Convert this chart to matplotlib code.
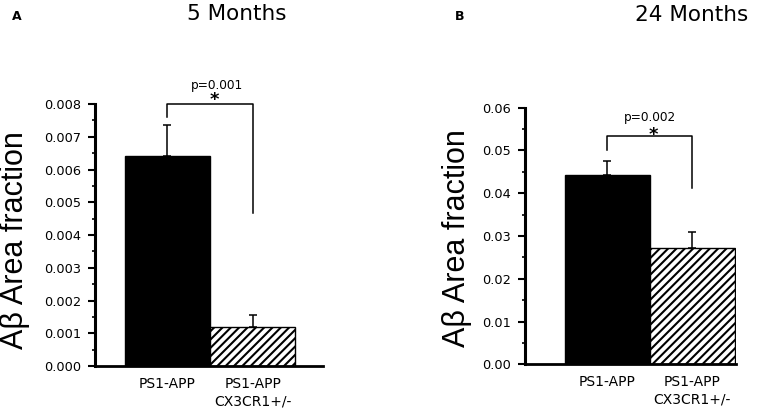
import matplotlib
matplotlib.use('Agg')
import matplotlib.pyplot as plt
from matplotlib.ticker import MultipleLocator, FormatStrFormatter

plt.rcParams['font.family'] = 'DejaVu Sans'
plt.rcParams['hatch.linewidth'] = 1.5

# data
groups = ["PS1-APP", "PS1-APP\nCX3CR1+/-"]
means_5m = [0.00640, 0.00118]
errs_5m = [0.00095, 0.00037]
means_24m = [0.0443, 0.0273]
errs_24m = [0.0033, 0.0036]
pval_5m = "p=0.001"
pval_24m = "p=0.002"

W, H = 765, 412
fig = plt.figure(figsize=(W / 100, H / 100), dpi=100, facecolor='white')


def px_axes(left, top, right, bottom):
    # pixel box -> figure fraction
    return fig.add_axes([left / W, 1 - bottom / H, (right - left) / W, (bottom - top) / H])


def draw_panel(ax, means, errs, ymax, major, fmt, xlim, bracket, ptext, pxy, star_xy):
    x = [0, 1]
    ax.bar(x[0], means[0], width=1.0, color='black', edgecolor='black', linewidth=1.0)
    ax.bar(x[1], means[1], width=1.0, color='white', edgecolor='black', linewidth=1.0, hatch='////')
    ax.errorbar(x, means, yerr=[[0, 0], errs], fmt='none', ecolor='black',
                elinewidth=1.1, capsize=3, capthick=1.1)

    ax.set_xlim(*xlim)
    ax.set_ylim(0, ymax)
    ax.yaxis.set_major_locator(MultipleLocator(major))
    ax.yaxis.set_minor_locator(MultipleLocator(major / 2))
    ax.yaxis.set_major_formatter(FormatStrFormatter(fmt))
    ax.tick_params(axis='y', which='major', direction='out', length=5, width=1.5,
                   labelsize=9.3, pad=5)
    ax.tick_params(axis='y', which='minor', direction='out', length=2, width=1.2)
    ax.set_xticks(x)
    ax.set_xticklabels(groups, fontsize=10, linespacing=1.3, va='top')
    ax.tick_params(axis='x', length=0, pad=8)

    for side in ['top', 'right']:
        ax.spines[side].set_visible(False)
    ax.spines['left'].set_linewidth(2.2)
    ax.spines['bottom'].set_linewidth(2.0)

    # significance bracket
    top, lbot, rbot = bracket
    ax.plot([0, 0, 1, 1], [lbot, top, top, rbot], color='black', lw=1.1, clip_on=False)
    ax.text(pxy[0], pxy[1], ptext, fontsize=8.7, ha='center', va='center')
    ax.text(star_xy[0], star_xy[1], '*', fontsize=13, fontweight='bold', ha='center', va='center')


axA = px_axes(95, 104, 323, 366)
draw_panel(axA, means_5m, errs_5m, 0.008, 0.001, '%.3f', (-0.849, 1.826),
           (0.0080, 0.0076, 0.00468), pval_5m, (0.58, 0.00855), (0.55, 0.00812))

axB = px_axes(525, 107.7, 735.7, 364.3)
draw_panel(axB, means_24m, errs_24m, 0.06, 0.01, '%.2f', (-0.969, 1.51),
           (0.0534, 0.0501, 0.0413), pval_24m, (0.5, 0.0576), (0.54, 0.0537))

# y labels, titles, panel letters
for xp, yp in [(15, 240), (457, 238)]:
    fig.text(xp / W, 1 - yp / H, 'A\u03b2 Area fraction', family='Liberation Sans',
             fontsize=22, rotation=90, ha='center', va='center')
fig.text(237 / W, 1 - 14 / H, '5 Months', fontsize=15.5, ha='center', va='center')
fig.text(692 / W, 1 - 15 / H, '24 Months', fontsize=15.5, ha='center', va='center')
fig.text(17 / W, 1 - 17 / H, 'A', fontsize=9, fontweight='bold', ha='center', va='center')
fig.text(460 / W, 1 - 17 / H, 'B', fontsize=9, fontweight='bold', ha='center', va='center')

fig.savefig('out.png', dpi=100, facecolor='white')
